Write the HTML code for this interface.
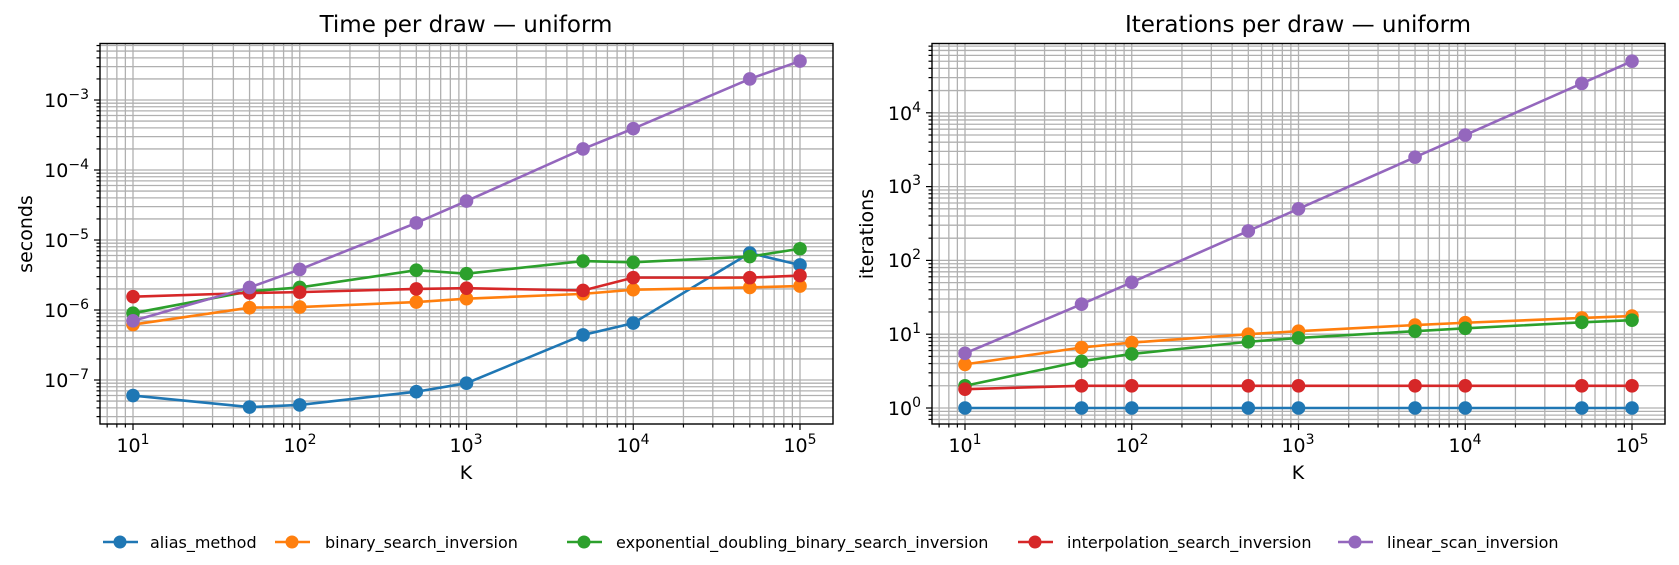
<!DOCTYPE html>
<html><head><meta charset="utf-8"><style>
body{margin:0;background:#fff;}
svg{display:block;font-family:"DejaVu Sans","Liberation Sans",sans-serif;}
</style></head><body>
<svg id="s" width="1679" height="565" viewBox="0 0 1679 565" xmlns="http://www.w3.org/2000/svg">
<rect width="1679" height="565" fill="#fff"/>
<g id="plots"></g>
<text x="466" y="32" font-size="23" text-anchor="middle">Time per draw — uniform</text>
<text x="1298" y="32" font-size="23" text-anchor="middle">Iterations per draw — uniform</text>
<text x="466" y="479" font-size="19" text-anchor="middle">K</text>
<text x="1298" y="479" font-size="19" text-anchor="middle">K</text>
<text transform="translate(32,234) rotate(-90)" font-size="19" text-anchor="middle">seconds</text>
<text transform="translate(873,234) rotate(-90)" font-size="19" text-anchor="middle">iterations</text>
<g font-size="19" text-anchor="middle">
<text x="133" y="452">10<tspan font-size="14" dy="-8">1</tspan></text>
<text x="300" y="452">10<tspan font-size="14" dy="-8">2</tspan></text>
<text x="466" y="452">10<tspan font-size="14" dy="-8">3</tspan></text>
<text x="633" y="452">10<tspan font-size="14" dy="-8">4</tspan></text>
<text x="800" y="452">10<tspan font-size="14" dy="-8">5</tspan></text>
<text x="965" y="452">10<tspan font-size="14" dy="-8">1</tspan></text>
<text x="1132" y="452">10<tspan font-size="14" dy="-8">2</tspan></text>
<text x="1298" y="452">10<tspan font-size="14" dy="-8">3</tspan></text>
<text x="1465" y="452">10<tspan font-size="14" dy="-8">4</tspan></text>
<text x="1632" y="452">10<tspan font-size="14" dy="-8">5</tspan></text>
</g>
<g font-size="19" text-anchor="end">
<text x="89" y="107">10<tspan font-size="14" dy="-8">−3</tspan></text>
<text x="89" y="177">10<tspan font-size="14" dy="-8">−4</tspan></text>
<text x="89" y="247">10<tspan font-size="14" dy="-8">−5</tspan></text>
<text x="89" y="317">10<tspan font-size="14" dy="-8">−6</tspan></text>
<text x="89" y="387">10<tspan font-size="14" dy="-8">−7</tspan></text>
<text x="921" y="120">10<tspan font-size="14" dy="-8">4</tspan></text>
<text x="921" y="193">10<tspan font-size="14" dy="-8">3</tspan></text>
<text x="921" y="267">10<tspan font-size="14" dy="-8">2</tspan></text>
<text x="921" y="341">10<tspan font-size="14" dy="-8">1</tspan></text>
<text x="921" y="415">10<tspan font-size="14" dy="-8">0</tspan></text>
</g>
<g font-size="16">
<line x1="103" y1="542" x2="138" y2="542" stroke="#1f77b4" stroke-width="2.5"/><circle cx="120" cy="542" r="6.5" fill="#1f77b4"/>
<text x="150" y="548">alias_method</text>
<line x1="275" y1="542" x2="310" y2="542" stroke="#ff7f0e" stroke-width="2.5"/><circle cx="292" cy="542" r="6.5" fill="#ff7f0e"/>
<text x="325" y="548">binary_search_inversion</text>
<line x1="567" y1="542" x2="602" y2="542" stroke="#2ca02c" stroke-width="2.5"/><circle cx="584" cy="542" r="6.5" fill="#2ca02c"/>
<text x="616" y="548">exponential_doubling_binary_search_inversion</text>
<line x1="1018" y1="542" x2="1053" y2="542" stroke="#d62728" stroke-width="2.5"/><circle cx="1035" cy="542" r="6.5" fill="#d62728"/>
<text x="1067" y="548">interpolation_search_inversion</text>
<line x1="1338" y1="542" x2="1373" y2="542" stroke="#9467bd" stroke-width="2.5"/><circle cx="1355" cy="542" r="6.5" fill="#9467bd"/>
<text x="1387" y="548">linear_scan_inversion</text>
</g>
</svg>
<script>
(function(){
var NS="http://www.w3.org/2000/svg",g=document.getElementById("plots");
function el(t,a){var e=document.createElementNS(NS,t);for(var k in a)e.setAttribute(k,a[k]);g.appendChild(e);return e;}
var K=[10,50,100,500,1000,5000,10000,50000,100000];
var C=["#1f77b4","#ff7f0e","#2ca02c","#d62728","#9467bd"];
var top=43.5,bot=424;
function plot(x0,x10,xdec,y0ref,ydec,ylo,yhi,series){
  var X=function(v){return x10+(Math.log10(v)-1)*xdec;};
  var Y=function(v){return y0ref-(Math.log10(v))*ydec;};
  var xl=x0,xr=x0+733;
  for(var d=0;d<=5;d++)for(var m=1;m<10;m++){var v=m*Math.pow(10,d);var x=X(v);if(x<xl||x>xr)continue;
    el("line",{x1:x,x2:x,y1:top,y2:bot,stroke:"#b0b0b0","stroke-width":1.3});
    el("line",{x1:x,x2:x,y1:bot,y2:bot+(m==1?6:3.5),stroke:"#000","stroke-width":1.2});}
  for(var d=ylo;d<=yhi;d++)for(var m=1;m<10;m++){var v=m*Math.pow(10,d);var y=Y(v);if(y<top||y>bot)continue;
    el("line",{x1:xl,x2:xr,y1:y,y2:y,stroke:"#b0b0b0","stroke-width":1.3});
    el("line",{x1:xl,x2:xl-(m==1?6:3.5),y1:y,y2:y,stroke:"#000","stroke-width":1.2});}
  el("rect",{x:xl,y:top,width:733,height:bot-top,fill:"none",stroke:"#000","stroke-width":1.4});
  series.forEach(function(s,i){
    var p=s.map(function(v,j){return X(K[j])+","+Y(v);}).join(" ");
    el("polyline",{points:p,fill:"none",stroke:C[i],"stroke-width":2.6});
    s.forEach(function(v,j){el("circle",{cx:X(K[j]),cy:Y(v),r:6.8,fill:C[i]});});
  });
}
plot(100,133,166.75,-110,70,-8,-2,[
 [6e-8,4.1e-8,4.4e-8,6.8e-8,9e-8,4.4e-7,6.5e-7,6.5e-6,4.4e-6],
 [6.2e-7,1.08e-6,1.1e-6,1.3e-6,1.45e-6,1.7e-6,1.95e-6,2.1e-6,2.2e-6],
 [9e-7,1.85e-6,2.1e-6,3.7e-6,3.3e-6,5e-6,4.8e-6,5.8e-6,7.5e-6],
 [1.55e-6,1.75e-6,1.8e-6,2e-6,2.05e-6,1.9e-6,2.9e-6,2.9e-6,3.1e-6],
 [7e-7,2.1e-6,3.8e-6,1.75e-5,3.6e-5,2e-4,3.9e-4,2e-3,3.6e-3]]);
plot(932,965,166.75,408,73.8,-1,5,[
 [1,1,1,1,1,1,1,1,1],
 [3.9,6.6,7.7,10,11,13.3,14.3,16.6,17.6],
 [2,4.3,5.4,7.9,8.9,11,12,14.5,15.5],
 [1.8,2,2,2,2,2,2,2,2],
 [5.5,25.5,50.5,250.5,500.5,2500.5,5000.5,25000.5,50000.5]]);
})();
</script>
</body></html>
